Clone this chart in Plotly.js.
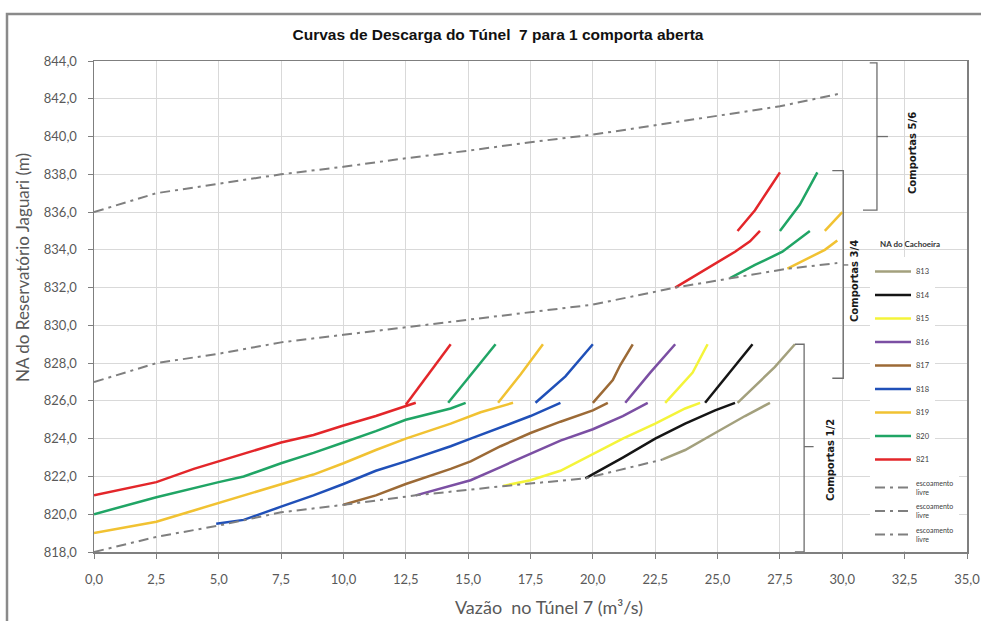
<!DOCTYPE html>
<html>
<head>
<meta charset="utf-8">
<script src="https://cdn.plot.ly/plotly-3.0.1.min.js"></script>
<style>html,body{margin:0;padding:0;background:#fff;}#chart{width:981px;height:621px;}</style>
</head>
<body>
<div id="chart"></div>
<script>
// ---- data (x = Vazão no Túnel 7 m³/s, y = NA do Reservatório Jaguari m) ----
const seriesNames = ["813","814","815","816","817","818","819","820","821"];
const seriesColors = ["#a3a07d","#151515","#f4f43a","#7b4fa3","#9c6a36","#2050b8","#f1c232","#20a565","#e3262a"];

const q813 = [22.8,23.7,24.9,26.1,27.1,null,25.8,26.5,27.3,28.1];
const h813 = [822.9,823.4,824.3,825.2,825.9,null,825.9,826.8,827.8,829.0];
const q814 = [19.7,21.2,22.5,23.7,24.9,25.7,null,24.5,25.5,26.4];
const h814 = [821.9,823.0,824.0,824.8,825.5,825.9,null,825.9,827.5,829.0];
const q815 = [16.4,17.5,18.7,20.0,21.2,22.5,23.7,24.3,null,22.9,24.0,24.6];
const h815 = [821.5,821.8,822.3,823.2,824.0,824.8,825.6,825.9,null,825.9,827.5,829.0];
const q816 = [12.9,15.1,16.3,17.5,18.7,20.0,21.2,22.2,null,21.3,22.3,23.3];
const h816 = [821.0,821.8,822.5,823.2,823.9,824.5,825.2,825.9,null,825.9,827.5,829.0];
const q817 = [10.0,11.3,12.5,14.3,15.1,16.3,17.5,18.7,20.0,20.6,null,20.0,20.8,21.1,21.6];
const h817 = [820.5,821.0,821.6,822.4,822.8,823.6,824.3,824.9,825.5,825.9,null,825.9,827.1,827.9,829.0];
const q818 = [4.9,6.0,7.5,8.8,10.0,11.3,12.5,14.3,15.1,16.3,17.5,18.7,null,17.7,18.9,20.0];
const h818 = [819.5,819.7,820.4,821.0,821.6,822.3,822.8,823.6,824.0,824.6,825.2,825.9,null,825.9,827.3,829.0];
const q819 = [0,1.7,2.5,4.0,5.0,6.1,7.5,8.8,10.0,11.3,12.5,14.3,15.5,16.8,null,16.2,17.1,18.0,null,27.8,28.8,29.3,29.8,null,29.3,30.0];
const h819 = [819.0,819.4,819.6,820.2,820.6,821.0,821.6,822.1,822.7,823.4,824.0,824.8,825.4,825.9,null,825.9,827.4,829.0,null,833.0,833.65,834.0,834.5,null,835.0,836.0];
const q820 = [0,2.5,5.0,6.0,7.5,8.8,10.0,11.3,12.5,14.3,14.9,null,14.2,15.2,16.1,null,25.5,26.5,27.6,28.7,null,27.5,28.3,29.0];
const h820 = [820.0,820.9,821.7,822.0,822.7,823.25,823.8,824.4,825.0,825.6,825.9,null,825.9,827.5,829.0,null,832.5,833.2,833.9,835.0,null,835.0,836.4,838.1];
const q821 = [0,1.7,2.5,4.0,5.0,6.1,7.5,8.8,10.0,11.3,12.5,12.9,null,12.5,13.4,14.3,null,23.3,24.5,25.7,26.3,26.7,null,25.8,26.5,27.1,27.5];
const h821 = [821.0,821.5,821.7,822.4,822.8,823.25,823.8,824.2,824.7,825.2,825.75,825.9,null,825.8,827.4,829.0,null,832.0,832.95,833.9,834.45,835.0,null,835.0,836.1,837.3,838.1];

// escoamento livre (free flow) curves
const qLivre12 = [0,2.5,5.0,7.5,10.0,12.9,16.5,19.7,22.8];
const hLivre12 = [818.0,818.8,819.4,820.1,820.5,821.0,821.5,821.9,822.9];
const qLivre34 = [0,2.5,5.0,7.5,10.0,12.5,15.0,18.3,20.0,23.3,25.5,27.8,29.8];
const hLivre34 = [827.0,828.0,828.5,829.1,829.5,829.9,830.3,830.8,831.1,832.0,832.5,833.0,833.3];
const qLivre56 = [0,2.5,5.0,7.5,10.0,12.5,15.0,17.5,20.0,22.5,25.0,27.5,30.0];
const hLivre56 = [836.0,837.0,837.5,838.0,838.4,838.85,839.25,839.7,840.1,840.6,841.1,841.6,842.3];

const xTickVals = [0,2.5,5,7.5,10,12.5,15,17.5,20,22.5,25,27.5,30,32.5,35];
const yTickVals = [818,820,822,824,826,828,830,832,834,836,838,840,842,844];

const qSeries = [q813,q814,q815,q816,q817,q818,q819,q820,q821];
const hSeries = [h813,h814,h815,h816,h817,h818,h819,h820,h821];

const traces = [];
seriesNames.forEach((n,i)=>{
  traces.push({type:'scatter',mode:'lines',name:n,x:qSeries[i],y:hSeries[i],
    connectgaps:false,legendgroup:'g'+i,legend:'legend',
    line:{color:seriesColors[i],width:2.5}});
});
const livre = [[qLivre12,hLivre12],[qLivre34,hLivre34],[qLivre56,hLivre56]];
livre.forEach((d,i)=>{
  traces.push({type:'scatter',mode:'lines',name:'escoamento<br>livre',x:d[0],y:d[1],
    legendgroup:'l'+i,legend:'legend2',line:{color:'#7f7f7f',width:2,dash:'10px,5px,3px,5px'}});
});

function px2x(p){return (p-94)/873;}
function py2y(p){return (552-p)/491;}

const brk = {color:'#6e6e6e',width:1.3};
const shapes = [
  // outer chart border
  {type:'rect',xref:'paper',yref:'paper',x0:px2x(7),x1:px2x(990),y0:py2y(640),y1:py2y(14),line:{color:'#8a8a8a',width:2.5},layer:'below'},
  // Comportas 1/2 bracket
  {type:'path',xref:'x',yref:'y',path:'M28.1,829 L28.47,829 L28.47,818 L28.1,818',line:brk},
  {type:'line',xref:'x',yref:'y',x0:28.47,x1:28.85,y0:823.58,y1:823.58,line:brk},
  // Comportas 3/4 bracket
  {type:'path',xref:'x',yref:'y',path:'M29.6,838.2 L30.04,838.2 L30.04,827.2 L29.6,827.2',line:brk},
  {type:'line',xref:'x',yref:'y',x0:30.04,x1:30.24,y0:833.2,y1:833.2,line:brk},
  // Comportas 5/6 bracket
  {type:'path',xref:'x',yref:'y',path:'M31.1,843.9 L31.39,843.9 L31.39,836.1 L30.83,836.1',line:brk},
  {type:'line',xref:'x',yref:'y',x0:31.39,x1:31.83,y0:840.0,y1:840.0,line:brk}
];

const annFont = {family:'DejaVu Sans, Verdana, sans-serif',size:10,color:'#1a1a1a',weight:'bold'};
function ann(text,x,y,angle,font,xa){
  return {text:text,xref:'paper',yref:'paper',x:px2x(x),y:py2y(y),textangle:angle,showarrow:false,
    xanchor:xa||'center',yanchor:'middle',font:font};
}
const annotations = [
  ann('Comportas 1/2',830,460,-90,annFont),
  ann('Comportas 3/4',854,281,-90,annFont),
  ann('Comportas 5/6',912,153,-90,annFont),
  ann('NA do Cachoeira',878,244,0,{family:'Lato, sans-serif',size:8,color:'#333',weight:'bold'},'left'),
  ann('NA do Reservatório Jaguari (m)',22,268,-90,{family:'Lato, sans-serif',size:17,color:'#595959'}),
  ann('Vazão  no Túnel 7 (m³/s)',549,607,0,{family:'Lato, sans-serif',size:18,color:'#595959'})
];

const axisCommon = {showgrid:true,gridcolor:'#d9d9d9',gridwidth:1,zeroline:false,showline:true,linecolor:'#7f7f7f',linewidth:1.5,
  mirror:true,ticks:'outside',ticklen:5,tickcolor:'#7f7f7f',tickformat:'.1f',
  tickfont:{family:'Lato, sans-serif',size:13,color:'#595959'}};

const layout = {
  width:981,height:621,
  margin:{l:94,r:14,t:61,b:69},
  paper_bgcolor:'#fff',plot_bgcolor:'#fff',
  separators:',.',
  title:{text:'Curvas de Descarga do Túnel  7 para 1 comporta aberta',xref:'container',yref:'container',
    x:498/981,y:1-35/621,xanchor:'center',yanchor:'middle',
    font:{family:'Liberation Sans Narrow, Arial Narrow, Liberation Sans, sans-serif',size:15.5,color:'#111',weight:'bold'}},
  xaxis:Object.assign({},axisCommon,{range:[0,35],tickvals:xTickVals,ticklabelstandoff:10}),
  yaxis:Object.assign({},axisCommon,{range:[818,844],tickvals:yTickVals,ticklabelstandoff:8}),
  showlegend:true,
  legend:{x:px2x(870),y:py2y(257),xanchor:'left',yanchor:'top',bgcolor:'#fff',borderwidth:0,
    tracegroupgap:4.5,traceorder:'grouped',itemwidth:36,
    font:{family:'Lato, sans-serif',size:7.5,color:'#404040'}},
  legend2:{x:px2x(870),y:py2y(472),xanchor:'left',yanchor:'top',bgcolor:'#fff',borderwidth:0,
    tracegroupgap:2.3,traceorder:'grouped',itemwidth:36,
    font:{family:'Lato, sans-serif',size:7,color:'#404040'}},
  shapes:shapes,
  annotations:annotations
};

Plotly.newPlot('chart',traces,layout,{displayModeBar:false,staticPlot:true});
</script>
</body>
</html>
